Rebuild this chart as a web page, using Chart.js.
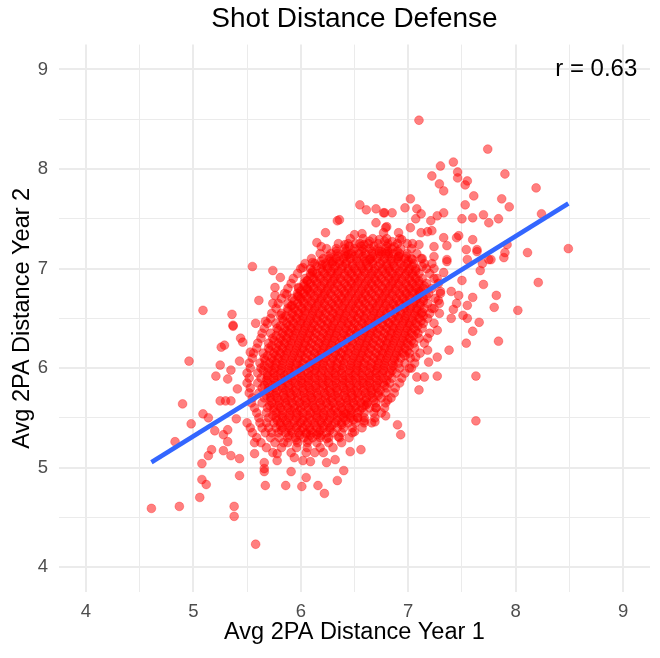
<!DOCTYPE html>
<html><head><meta charset="utf-8">
<script src="https://cdn.jsdelivr.net/npm/chart.js@4.4.1/dist/chart.umd.min.js"></script>
<style>html,body{margin:0;padding:0;background:#fff;}</style>
</head><body>
<canvas id="c" width="660" height="658"></canvas>
<script>
const titleText = 'Shot Distance Defense';
const xTitle = 'Avg 2PA Distance Year 1';
const yTitle = 'Avg 2PA Distance Year 2';
const tickValues = [4, 4.5, 5, 5.5, 6, 6.5, 7, 7.5, 8, 8.5, 9];
const majorTicks = [4, 5, 6, 7, 8, 9];
const rLabel = 'r = 0.63';
const rLabelAt = [8.75, 9];
const fitIntercept = 1.965;
const fitSlope = 0.670;

// scattered players [year1, year2]
const upperPoints = [
[7.10,8.49],[7.74,8.20],[7.42,8.07],[7.30,8.03],[7.46,7.97],[7.22,7.93],[7.46,7.91],[7.55,7.88],[7.90,7.95],[7.29,7.85],
[7.53,7.84],[7.33,7.78],[8.19,7.81],[7.61,7.73],[7.87,7.70],[7.94,7.62],[7.02,7.70],[7.53,7.64],[6.97,7.61],[7.08,7.60],
[7.12,7.55],[6.85,7.56],[6.77,7.56],[7.33,7.56],[7.27,7.53],[7.07,7.50],[7.21,7.48],[7.50,7.50],[7.60,7.51],[7.70,7.54],
[7.75,7.46],[7.84,7.50],[8.24,7.55],[8.49,7.20],[8.11,7.16],[7.92,7.24],[7.90,7.16],[7.89,7.11],[7.60,7.29],[7.47,7.33],
[7.45,7.31],[7.33,7.31],[7.36,7.23],[7.54,7.19],[7.64,7.19],[7.55,7.09],[7.75,7.09],[7.69,7.05],[7.24,7.22],[7.18,7.37],
[7.22,7.38],[7.12,7.36],[7.02,7.41],[6.91,7.36],[6.79,7.41],[7.04,7.25],[7.10,7.24],[6.94,7.29],[6.87,7.22],[7.24,7.12],
[7.36,7.09],[7.13,7.10],[7.04,7.09],[6.91,7.12],[6.82,7.15],[6.75,7.17],[7.22,7.05],
[6.55,7.64],[6.61,7.59],[6.70,7.60],[6.78,7.56],[6.34,7.48],[6.36,7.49],[6.23,7.36],[6.15,7.26],[6.19,7.22],[6.50,7.34],
[6.57,7.35],[6.41,7.24],[6.70,7.46],[6.80,7.42],[6.77,7.36],[6.51,7.25],[6.59,7.24],[6.85,7.27],[6.73,7.29],[6.44,7.14],
[6.64,7.09],[5.55,7.02],[5.74,6.98],[5.81,6.91],[6.02,7.01],[6.11,7.06],[6.20,7.04],[6.30,7.07],[6.06,6.88],[6.11,6.96],
[5.76,6.81],[5.76,6.73],[5.87,6.74],[5.61,6.68],[5.74,6.65],[5.36,6.54],[5.37,6.43],[5.58,6.45],[5.67,6.47],[5.81,6.53],
[5.98,6.72],[5.98,6.81],[6.06,6.79],[5.92,6.63],[5.44,6.30]
];
const lowerLeftPoints = [
[5.09,6.58],[5.37,6.42],[4.96,6.07],[5.26,6.21],[5.29,6.23],[5.46,6.26],[5.25,6.03],[5.21,5.92],[5.32,5.89],[5.35,5.98],
[5.43,6.07],[5.41,5.79],[4.90,5.64],[5.25,5.67],[5.30,5.67],[5.35,5.67],[5.09,5.54],[5.14,5.50],[4.98,5.44],[4.83,5.26],
[5.20,5.37],[5.32,5.38],[5.28,5.33],[5.32,5.26],[5.17,5.18],[5.14,5.12],[5.28,5.17],[5.35,5.12],[5.08,5.04],[5.43,5.09],
[5.08,4.88],[5.43,4.92],[5.40,5.49],[5.53,6.16],[5.12,4.83],[5.06,4.70],[4.61,4.59],[4.87,4.61],[5.38,4.61],[5.38,4.51],
[5.58,4.23],[5.67,4.82],[5.66,5.05],[5.66,4.99],[5.66,4.96],[5.86,4.82],[5.91,4.96],[6.01,4.81],[6.05,4.90],[6.16,4.82],
[5.78,5.07],[5.94,5.10],[6.02,5.07],[6.09,5.06],[5.57,5.25],[5.57,5.14],[5.84,5.25],[5.78,5.14]
];
const lowerRightPoints = [
[7.63,5.47],[6.90,5.43],[6.93,5.33],[6.79,5.52],[6.69,5.46],[6.70,5.60],[6.81,5.68],[6.61,5.63],[6.56,5.18],[6.46,5.16],
[6.40,4.97],[6.34,4.87],[6.32,5.08],[6.22,4.74],[6.13,5.15],[6.24,5.05],[6.50,5.36],[6.59,5.47],[6.35,5.31],[6.24,5.29],
[6.15,5.33],[6.05,5.34],[6.42,5.54],[6.53,5.50],[6.38,5.43],[6.49,5.48],
[8.21,6.86],[8.02,6.58],[7.82,6.73],[7.80,6.61],[7.70,6.84],[7.67,6.98],[7.77,7.09],[7.66,6.46],[7.60,6.37],[7.84,6.27],
[7.54,6.25],[7.60,6.71],[7.55,6.63],[7.55,6.50],[7.50,6.88],[7.47,6.73],[7.51,6.53],[7.40,6.77],[7.40,6.50],[7.42,6.59],
[7.45,6.65],[7.38,6.18],[7.27,6.38],[7.18,6.30],[7.18,6.18],[7.27,6.11],[7.19,6.06],[7.63,5.92],[7.27,5.92],[7.15,5.91],
[7.10,5.78],[7.13,7.02],[7.36,7.07],[7.64,7.17],[7.33,6.96],[7.27,6.90],[7.30,6.77],[7.28,6.68],[7.22,6.60],[7.13,6.56],
[7.10,6.77],[7.03,6.00],[7.08,5.91],[7.07,6.11]
];
// dense middle of the cloud, read row by row: [year2, [year1 values]]
const coreRowsA = [
[7.30,[6.46,6.58,6.67,6.80,6.92]],
[7.25,[6.35,6.44,6.55,6.63,6.72,6.81,6.90,6.99]],
[7.20,[6.24,6.33,6.41,6.50,6.58,6.64,6.72,6.79,6.85,6.93,7.03]],
[7.15,[6.18,6.28,6.34,6.41,6.47,6.54,6.60,6.66,6.73,6.79,6.86,6.92,6.99,7.08]],
[7.10,[6.10,6.21,6.27,6.33,6.40,6.46,6.52,6.59,6.65,6.71,6.78,6.84,6.90,6.97,7.03,7.12]],
[7.05,[6.04,6.13,6.23,6.29,6.36,6.42,6.48,6.55,6.61,6.67,6.74,6.80,6.86,6.93,6.99,7.05,7.15]],
[7.00,[6.00,6.09,6.19,6.25,6.31,6.38,6.44,6.50,6.57,6.63,6.69,6.76,6.82,6.88,6.95,7.01,7.07,7.17,7.24]],
[6.95,[5.97,6.09,6.15,6.22,6.28,6.34,6.41,6.47,6.53,6.60,6.66,6.72,6.79,6.85,6.91,6.98,7.04,7.10,7.20]],
[6.90,[5.93,6.04,6.12,6.18,6.25,6.31,6.37,6.44,6.50,6.56,6.63,6.69,6.75,6.82,6.88,6.94,7.01,7.07,7.13,7.24]],
[6.85,[5.91,6.03,6.09,6.15,6.22,6.28,6.34,6.41,6.47,6.53,6.60,6.66,6.72,6.79,6.85,6.91,6.98,7.04,7.10,7.17,7.28]],
[6.80,[5.88,5.98,6.06,6.12,6.19,6.25,6.31,6.38,6.44,6.50,6.57,6.63,6.69,6.76,6.82,6.88,6.95,7.01,7.07,7.14,7.22]],
[6.75,[5.85,5.97,6.03,6.09,6.16,6.22,6.28,6.35,6.41,6.47,6.54,6.60,6.66,6.73,6.79,6.85,6.92,6.98,7.04,7.11,7.19,7.30]],
[6.70,[5.82,5.92,6.00,6.06,6.13,6.19,6.25,6.32,6.38,6.44,6.51,6.57,6.63,6.70,6.76,6.82,6.89,6.95,7.01,7.08,7.14,7.25]],
[6.65,[5.79,5.88,5.97,6.03,6.10,6.16,6.22,6.29,6.35,6.41,6.48,6.54,6.60,6.67,6.73,6.79,6.86,6.92,6.98,7.05,7.11,7.18,7.29]],
[6.60,[5.77,5.88,5.94,6.01,6.07,6.13,6.20,6.26,6.32,6.39,6.45,6.51,6.58,6.64,6.70,6.77,6.83,6.89,6.96,7.02,7.08,7.15,7.24]],
[6.55,[5.73,5.82,5.92,5.98,6.04,6.11,6.17,6.23,6.30,6.36,6.42,6.49,6.55,6.61,6.68,6.74,6.80,6.87,6.93,6.99,7.06,7.12,7.20,7.29]],
[6.50,[5.72,5.83,5.90,5.96,6.02,6.09,6.15,6.21,6.28,6.34,6.40,6.47,6.53,6.59,6.66,6.72,6.78,6.85,6.91,6.97,7.04,7.10,7.18]],
[6.45,[5.69,5.77,5.87,5.93,6.00,6.06,6.12,6.19,6.25,6.31,6.38,6.44,6.50,6.57,6.63,6.69,6.76,6.82,6.88,6.95,7.01,7.07,7.14,7.24]],
[6.40,[5.66,5.78,5.85,5.91,5.97,6.04,6.10,6.16,6.23,6.29,6.35,6.42,6.48,6.54,6.61,6.67,6.73,6.80,6.86,6.92,6.99,7.05,7.13]],
[6.35,[5.64,5.72,5.83,5.89,5.95,6.02,6.08,6.14,6.21,6.27,6.33,6.40,6.46,6.52,6.59,6.65,6.71,6.78,6.84,6.90,6.97,7.03,7.09,7.20]],
[6.30,[5.63,5.74,5.81,5.87,5.93,6.00,6.06,6.12,6.19,6.25,6.31,6.38,6.44,6.50,6.57,6.63,6.69,6.76,6.82,6.88,6.95,7.01,7.10]],
[6.25,[5.60,5.70,5.79,5.85,5.91,5.98,6.04,6.10,6.17,6.23,6.29,6.36,6.42,6.48,6.55,6.61,6.67,6.74,6.80,6.86,6.93,6.99,7.05,7.15]],
[6.20,[5.59,5.70,5.77,5.83,5.89,5.96,6.02,6.08,6.15,6.21,6.27,6.34,6.40,6.46,6.53,6.59,6.65,6.72,6.78,6.84,6.91,6.97,7.06]],
[6.15,[5.56,5.65,5.75,5.81,5.87,5.94,6.00,6.06,6.13,6.19,6.25,6.32,6.38,6.44,6.51,6.57,6.63,6.70,6.76,6.82,6.89,6.95,7.01,7.11]],
[6.10,[5.55,5.66,5.73,5.79,5.85,5.92,5.98,6.04,6.11,6.17,6.23,6.30,6.36,6.42,6.49,6.55,6.61,6.68,6.74,6.80,6.87,6.93,7.02]],
[6.05,[5.52,5.62,5.71,5.77,5.83,5.90,5.96,6.02,6.09,6.15,6.21,6.28,6.34,6.40,6.47,6.53,6.59,6.66,6.72,6.78,6.85,6.91,6.97,7.06]],
[6.00,[5.53,5.63,5.70,5.76,5.82,5.89,5.95,6.01,6.08,6.14,6.20,6.27,6.33,6.39,6.46,6.52,6.58,6.65,6.71,6.77,6.84,6.92,7.01]],
[5.95,[5.50,5.60,5.69,5.75,5.81,5.88,5.94,6.00,6.07,6.13,6.19,6.26,6.32,6.38,6.45,6.51,6.57,6.64,6.70,6.76,6.83,6.89,6.97]],
[5.90,[5.52,5.63,5.69,5.75,5.82,5.88,5.94,6.01,6.07,6.13,6.20,6.26,6.32,6.39,6.45,6.51,6.58,6.64,6.70,6.77,6.85,6.94]],
[5.85,[5.50,5.60,5.69,5.76,5.82,5.88,5.95,6.01,6.07,6.14,6.20,6.26,6.33,6.39,6.45,6.52,6.58,6.64,6.71,6.77,6.83,6.92]],
[5.80,[5.53,5.64,5.70,5.76,5.83,5.89,5.95,6.02,6.08,6.14,6.21,6.27,6.33,6.40,6.46,6.52,6.59,6.65,6.71,6.80,6.88]],
[5.75,[5.52,5.61,5.71,5.77,5.84,5.90,5.96,6.03,6.09,6.15,6.22,6.28,6.34,6.41,6.47,6.53,6.60,6.66,6.72,6.79,6.87]],
[5.70,[5.55,5.66,5.72,5.78,5.85,5.91,5.97,6.04,6.10,6.16,6.23,6.29,6.35,6.42,6.48,6.54,6.61,6.67,6.75,6.84]],
[5.65,[5.54,5.64,5.73,5.80,5.86,5.92,5.99,6.05,6.11,6.18,6.24,6.30,6.37,6.43,6.49,6.56,6.62,6.70,6.79]],
[5.60,[5.57,5.69,5.75,5.81,5.88,5.94,6.00,6.07,6.13,6.19,6.26,6.32,6.38,6.45,6.51,6.57,6.64,6.70,6.78]],
[5.55,[5.59,5.68,5.77,5.83,5.90,5.96,6.02,6.09,6.15,6.21,6.28,6.34,6.40,6.47,6.53,6.59,6.68,6.75]],
[5.50,[5.61,5.70,5.77,5.83,5.89,5.96,6.02,6.08,6.15,6.21,6.27,6.34,6.40,6.46,6.53,6.59,6.69]],
[5.45,[5.50,5.62,5.68,5.75,5.81,5.87,5.94,6.00,6.06,6.13,6.19,6.25,6.32,6.38,6.44,6.51,6.59,6.66]],
[5.40,[5.53,5.64,5.70,5.77,5.83,5.89,5.96,6.02,6.08,6.15,6.21,6.27,6.34,6.40,6.48,6.57]],
[5.35,[5.55,5.67,5.73,5.79,5.86,5.92,5.98,6.05,6.11,6.17,6.24,6.30,6.38,6.48]],
[5.30,[5.59,5.72,5.80,5.88,5.95,6.03,6.11,6.18,6.26,6.36,6.45]],
[5.25,[5.63,5.76,5.88,5.97,6.06,6.15,6.26,6.38]],
[5.20,[5.68,5.82,5.96,6.06,6.18,6.30]],
[5.15,[5.74,5.91,6.05,6.21]]
];
const coreRowsB = [
[7.275,[6.64,6.78]],
[7.225,[6.45,6.56,6.68,6.80]],
[7.175,[6.33,6.42,6.49,6.57,6.66,6.73,6.81,6.90]],
[7.125,[6.26,6.35,6.42,6.50,6.58,6.67,6.74,6.82,6.91,6.98]],
[7.075,[6.19,6.28,6.36,6.43,6.52,6.60,6.67,6.76,6.84,6.91,7.00]],
[7.025,[6.15,6.24,6.32,6.39,6.48,6.56,6.63,6.72,6.80,6.87,6.96,7.04]],
[6.975,[6.11,6.20,6.28,6.35,6.44,6.52,6.59,6.68,6.76,6.83,6.92,7.00,7.07]],
[6.925,[6.09,6.17,6.25,6.33,6.41,6.49,6.57,6.65,6.73,6.81,6.89,6.97,7.05]],
[6.875,[6.06,6.14,6.22,6.30,6.38,6.46,6.54,6.62,6.70,6.78,6.86,6.94,7.02,7.10]],
[6.825,[6.03,6.11,6.19,6.27,6.35,6.43,6.51,6.59,6.67,6.75,6.83,6.91,6.99,7.07,7.15]],
[6.775,[6.00,6.08,6.16,6.24,6.32,6.40,6.48,6.56,6.64,6.72,6.80,6.88,6.96,7.04,7.12]],
[6.725,[5.97,6.05,6.13,6.21,6.29,6.37,6.45,6.53,6.61,6.69,6.77,6.85,6.93,7.01,7.09,7.17]],
[6.675,[5.94,6.02,6.10,6.18,6.26,6.34,6.42,6.50,6.58,6.66,6.74,6.82,6.90,6.98,7.06,7.14]],
[6.625,[5.91,5.99,6.07,6.15,6.23,6.31,6.39,6.47,6.55,6.63,6.71,6.79,6.87,6.95,7.03,7.11]],
[6.575,[5.88,5.96,6.04,6.12,6.20,6.28,6.36,6.44,6.52,6.60,6.68,6.76,6.84,6.92,7.00,7.08]],
[6.525,[5.86,5.94,6.02,6.10,6.18,6.26,6.34,6.42,6.50,6.58,6.66,6.74,6.82,6.90,6.98,7.06,7.14]],
[6.475,[5.84,5.92,6.00,6.08,6.16,6.24,6.32,6.40,6.48,6.56,6.64,6.72,6.80,6.88,6.96,7.04,7.12]],
[6.425,[5.81,5.89,5.97,6.05,6.13,6.21,6.29,6.37,6.45,6.53,6.61,6.69,6.77,6.85,6.93,7.01,7.09]],
[6.375,[5.79,5.87,5.95,6.03,6.11,6.19,6.27,6.35,6.43,6.51,6.59,6.67,6.75,6.83,6.91,6.99,7.07]],
[6.325,[5.77,5.85,5.93,6.01,6.09,6.17,6.25,6.33,6.41,6.49,6.57,6.65,6.73,6.81,6.89,6.97,7.05]],
[6.275,[5.75,5.83,5.91,5.99,6.07,6.15,6.23,6.31,6.39,6.47,6.55,6.63,6.71,6.79,6.87,6.95,7.03]],
[6.225,[5.73,5.81,5.89,5.97,6.05,6.13,6.21,6.29,6.37,6.45,6.53,6.61,6.69,6.77,6.85,6.93,7.01]],
[6.175,[5.71,5.79,5.87,5.95,6.03,6.11,6.19,6.27,6.35,6.43,6.51,6.59,6.67,6.75,6.83,6.91,6.99]],
[6.125,[5.69,5.77,5.85,5.93,6.01,6.09,6.17,6.25,6.33,6.41,6.49,6.57,6.65,6.73,6.81,6.89,6.97]],
[6.075,[5.67,5.75,5.83,5.91,5.99,6.07,6.15,6.23,6.31,6.39,6.47,6.55,6.63,6.71,6.79,6.87]],
[6.025,[5.66,5.74,5.82,5.90,5.98,6.06,6.14,6.22,6.30,6.38,6.46,6.54,6.62,6.70,6.78,6.86]],
[5.975,[5.65,5.73,5.81,5.89,5.97,6.05,6.13,6.21,6.29,6.37,6.45,6.53,6.61,6.69,6.77,6.85]],
[5.925,[5.69,5.77,5.85,5.93,6.01,6.09,6.17,6.25,6.33,6.41,6.49,6.57,6.65,6.73,6.81]],
[5.875,[5.68,5.76,5.84,5.92,6.00,6.08,6.16,6.24,6.32,6.40,6.48,6.56,6.64,6.72,6.80]],
[5.825,[5.66,5.74,5.82,5.90,5.98,6.06,6.14,6.22,6.30,6.38,6.46,6.54,6.62,6.70,6.78]],
[5.775,[5.70,5.78,5.86,5.94,6.02,6.10,6.18,6.26,6.34,6.42,6.50,6.58,6.66,6.74]],
[5.725,[5.68,5.76,5.84,5.92,6.00,6.08,6.16,6.24,6.32,6.40,6.48,6.56,6.64,6.72]],
[5.675,[5.72,5.80,5.88,5.96,6.04,6.12,6.20,6.28,6.36,6.44,6.52,6.60,6.68]],
[5.625,[5.71,5.79,5.87,5.95,6.03,6.11,6.19,6.27,6.35,6.43,6.51,6.59]],
[5.575,[5.75,5.83,5.91,5.99,6.07,6.15,6.23,6.31,6.39,6.47,6.55]],
[5.525,[5.74,5.82,5.90,5.98,6.06,6.14,6.22,6.30,6.38,6.46]],
[5.475,[5.78,5.86,5.94,6.02,6.10,6.18,6.26,6.34,6.42]],
[5.425,[5.81,5.89,5.97,6.05,6.13,6.21,6.29]],
[5.375,[5.82,5.91,6.00,6.09,6.18,6.27]],
[5.325,[5.89,5.99,6.09,6.19]],
[5.275,[5.96,6.07]]
];

const players = [];
[upperPoints, lowerLeftPoints, lowerRightPoints].forEach(list => list.forEach(p => players.push({x: p[0], y: p[1]})));
[coreRowsA, coreRowsB].forEach(rows => rows.forEach(row => row[1].forEach(x => players.push({x: x, y: row[0]}))));

const xs = players.map(p => p.x);
const xMin = Math.min(...xs), xMax = Math.max(...xs);
const fitLine = [xMin, xMax].map(x => ({x: x, y: fitIntercept + fitSlope * x}));

const FONT = '"Liberation Sans", Arial, Helvetica, sans-serif';
Chart.defaults.font.family = FONT;

const rLabelPlugin = {
  id: 'rLabel',
  afterDatasetsDraw(chart) {
    const {ctx, scales} = chart;
    ctx.save();
    ctx.font = '24px ' + FONT;
    ctx.fillStyle = '#000';
    ctx.textAlign = 'center';
    ctx.textBaseline = 'middle';
    ctx.fillText(rLabel, scales.x.getPixelForValue(rLabelAt[0]), scales.y.getPixelForValue(rLabelAt[1]));
    ctx.restore();
  }
};

function axisCommon(title, titlePadding, tickPadding) {
  return {
    type: 'linear',
    min: 3.75, max: 9.25,
    afterBuildTicks: s => { s.ticks = tickValues.map(v => ({value: v})); },
    ticks: {
      autoSkip: false, maxRotation: 0, padding: tickPadding,
      color: '#4D4D4D', font: {size: 18.5},
      callback: v => majorTicks.includes(v) ? String(v) : ''
    },
    grid: {
      color: '#EBEBEB',
      lineWidth: c => (c.tick && majorTicks.includes(c.tick.value)) ? 2 : 1,
      drawTicks: false
    },
    border: {display: false},
    title: {display: true, text: title, color: '#000', font: {size: 23.5}, padding: titlePadding}
  };
}

const xAxis = axisCommon(xTitle, {top: 0, bottom: 11}, 9);
xAxis.afterFit = s => { s.height = 66; };
const yAxis = axisCommon(yTitle, {top: 8, bottom: 0}, 11);
yAxis.afterFit = s => { s.width = 59; };

new Chart(document.getElementById('c'), {
  type: 'scatter',
  data: {
    datasets: [
      {
        type: 'line', data: fitLine, borderColor: '#3366FF', borderWidth: 4.5,
        pointRadius: 0, showLine: true, fill: false, order: 0
      },
      {
        type: 'scatter', data: players,
        backgroundColor: 'rgba(255,0,0,0.5)', borderColor: 'rgba(255,0,0,0.3)', borderWidth: 1,
        pointRadius: 4.4, order: 1
      }
    ]
  },
  options: {
    responsive: false, animation: false,
    layout: {padding: {left: 0, right: 10, top: 0, bottom: 0}},
    plugins: {
      legend: {display: false}, tooltip: {enabled: false},
      title: {display: true, text: titleText, color: '#000', font: {size: 28, weight: 'normal'},
              padding: {top: 2, bottom: 9}, fullSize: false}
    },
    scales: {x: xAxis, y: yAxis}
  },
  plugins: [rLabelPlugin]
});
</script>
</body></html>
